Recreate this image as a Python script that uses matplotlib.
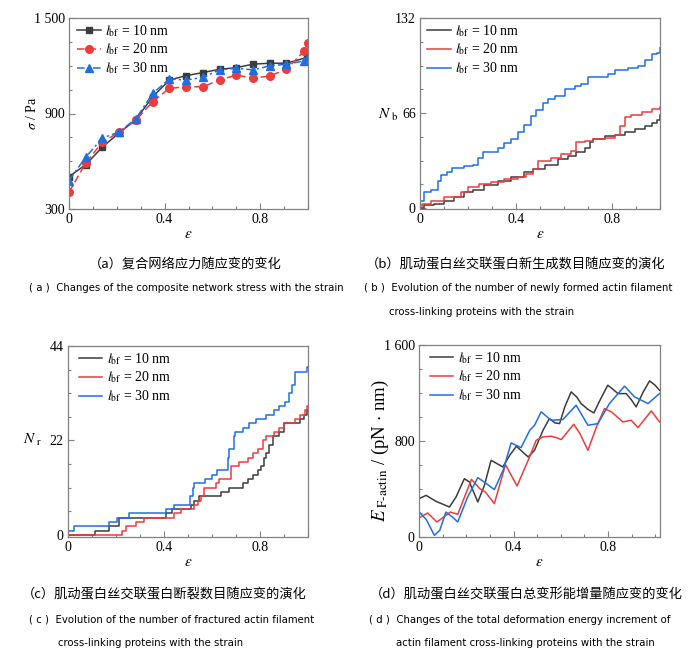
import matplotlib
matplotlib.use('Agg')
import matplotlib.pyplot as plt
from matplotlib import font_manager
from matplotlib.ticker import MultipleLocator

# ---- data ----
labels = [r'$l_{\mathrm{bf}}$ = 10 nm', r'$l_{\mathrm{bf}}$ = 20 nm', r'$l_{\mathrm{bf}}$ = 30 nm']
colors = ['#3c3c3c', '#ee3b3b', '#1f6fe0']

# (a) stress vs strain
a_x_10 = [0, 0.07, 0.14, 0.21, 0.28, 0.35, 0.42, 0.49, 0.56, 0.63, 0.70, 0.77, 0.84, 0.91, 0.995]
a_y_10 = [504, 578, 690, 778, 862, 1005, 1110, 1138, 1157, 1178, 1188, 1210, 1216, 1216, 1252]
a_x_20 = [0, 0.07, 0.14, 0.21, 0.28, 0.35, 0.42, 0.49, 0.56, 0.63, 0.70, 0.77, 0.84, 0.91, 0.985, 1.0]
a_y_20 = [405, 589, 721, 782, 858, 974, 1058, 1068, 1068, 1110, 1142, 1121, 1136, 1178, 1294, 1346]
a_x_30 = [0, 0.07, 0.14, 0.21, 0.28, 0.35, 0.42, 0.49, 0.56, 0.63, 0.70, 0.77, 0.84, 0.91, 0.985, 1.0]
a_y_30 = [479, 626, 746, 784, 868, 1026, 1117, 1110, 1127, 1174, 1184, 1174, 1199, 1210, 1231, 1255]

# (b) newly formed cross-links
b_x_10 = [0, 0.017, 0.059, 0.10, 0.142, 0.184, 0.219, 0.268, 0.324, 0.379, 0.435, 0.47, 0.519, 0.575,
          0.616, 0.651, 0.686, 0.707, 0.721, 0.77, 0.812, 0.854, 0.895, 0.937, 0.965, 0.986, 1.0]
b_y_10 = [0, 2, 3, 5, 8, 11, 13, 16, 19, 22, 25, 27, 30, 34, 36, 39, 42, 46, 48, 50, 51, 53, 55, 57, 59, 61, 65]
b_x_20 = [0, 0.01, 0.045, 0.10, 0.142, 0.170, 0.198, 0.247, 0.296, 0.351, 0.407, 0.442, 0.47, 0.491, 0.547,
          0.589, 0.63, 0.651, 0.686, 0.721, 0.77, 0.812, 0.833, 0.854, 0.881, 0.923, 0.965, 1.0]
b_y_20 = [0, 3, 5, 8, 8, 11, 15, 17, 18, 20, 22, 24, 27, 33, 35, 38, 40, 46, 47, 48, 49, 51, 57, 63, 65, 67, 69, 70]
b_x_30 = [0, 0.017, 0.045, 0.073, 0.086, 0.114, 0.135, 0.184, 0.219, 0.24, 0.261, 0.31, 0.324, 0.351, 0.379,
          0.407, 0.435, 0.463, 0.484, 0.512, 0.533, 0.561, 0.603, 0.644, 0.672, 0.70, 0.742, 0.784, 0.812,
          0.868, 0.909, 0.937, 0.965, 0.986, 1.0]
b_y_30 = [5, 11, 13, 19, 23, 25, 28, 29, 30, 35, 39, 39, 42, 45, 48, 53, 58, 64, 68, 73, 76, 78, 83, 85, 86,
          91, 91, 93, 96, 97, 99, 103, 107, 108, 111]

# (c) fractured cross-links
c_x_10 = [0, 0.114, 0.17, 0.212, 0.407, 0.435, 0.512, 0.526, 0.547, 0.637, 0.672, 0.728, 0.749, 0.77, 0.79,
          0.805, 0.815, 0.826, 0.837, 0.854, 0.881, 0.902, 0.965, 0.982, 0.996, 1.0]
c_y_10 = [0, 1, 2, 4, 5, 6, 7, 8, 9, 10, 11, 12, 13, 14, 15, 16, 18, 19, 21, 23, 24, 26, 27, 28, 29, 29]
c_x_20 = [0, 0.226, 0.24, 0.282, 0.317, 0.442, 0.47, 0.526, 0.54, 0.554, 0.568, 0.616, 0.63, 0.68, 0.714,
          0.749, 0.77, 0.79, 0.812, 0.826, 0.86, 0.881, 0.902, 0.944, 0.965, 0.986, 0.996, 1.0]
c_y_20 = [0, 1, 2, 3, 4, 5, 6, 7, 8, 9, 11, 12, 13, 16, 17, 18, 19, 20, 22, 23, 24, 25, 26, 27, 28, 29, 30, 30]
c_x_30 = [0, 0.024, 0.17, 0.205, 0.254, 0.41, 0.44, 0.51, 0.52, 0.525, 0.57, 0.60, 0.62, 0.665, 0.67, 0.69,
          0.695, 0.73, 0.755, 0.785, 0.825, 0.86, 0.88, 0.905, 0.92, 0.935, 0.945, 0.997, 1.0]
c_y_30 = [1, 2, 3, 4, 5, 6, 7, 9, 11, 12, 13, 14, 15, 18, 20, 23, 24, 25, 26, 27, 28, 29, 30, 31, 33, 35,
          38, 39, 39]

# (d) deformation energy increment
d_x_10 = [0.001, 0.030, 0.072, 0.129, 0.157, 0.192, 0.213, 0.249, 0.277, 0.305, 0.355, 0.384, 0.412, 0.434,
          0.462, 0.489, 0.525, 0.552, 0.575, 0.595, 0.617, 0.644, 0.667, 0.686, 0.716, 0.740, 0.766, 0.799,
          0.822, 0.842, 0.877, 0.900, 0.919, 0.949, 0.976, 0.999, 1.018]
d_y_10 = [320, 347, 297, 250, 334, 486, 459, 292, 431, 639, 584, 681, 756, 717, 667, 723, 890, 987, 951,
          945, 1084, 1209, 1168, 1112, 1062, 1034, 1140, 1265, 1229, 1195, 1195, 1140, 1084, 1209, 1301,
          1265, 1223]
d_x_20 = [0.001, 0.037, 0.076, 0.133, 0.164, 0.222, 0.257, 0.281, 0.319, 0.366, 0.415, 0.462, 0.496, 0.525,
          0.559, 0.582, 0.602, 0.655, 0.681, 0.715, 0.751, 0.785, 0.814, 0.863, 0.898, 0.927, 0.983, 1.018]
d_y_20 = [160, 200, 125, 208, 189, 481, 403, 375, 278, 603, 425, 639, 806, 834, 840, 828, 812, 940, 862,
          723, 917, 1070, 1043, 959, 973, 912, 1051, 959]
d_x_30 = [0.001, 0.031, 0.065, 0.088, 0.114, 0.141, 0.164, 0.206, 0.249, 0.285, 0.319, 0.356, 0.390, 0.432,
          0.469, 0.489, 0.517, 0.559, 0.609, 0.665, 0.715, 0.757, 0.806, 0.870, 0.912, 0.969, 1.018]
d_y_30 = [208, 145, 14, 56, 208, 167, 125, 334, 495, 445, 395, 556, 784, 745, 890, 931, 1043, 973, 979,
          1098, 931, 945, 1112, 1257, 1168, 1112, 1195]

plt.rcParams['font.family'] = ['Liberation Serif', 'DejaVu Serif']
plt.rcParams['mathtext.fontset'] = 'stix'

W, H = 694, 658
fig = plt.figure(figsize=(W / 100, H / 100), dpi=100)


def px_axes(l, t, r, b):
    return fig.add_axes([l / W, 1 - b / H, (r - l) / W, (b - t) / H])


def style(ax, ymaj, ymin, ylim, xmax=1.0):
    for s in ax.spines.values():
        s.set_color('#808080')
        s.set_linewidth(0.9)
    ax.set_xlim(0, xmax)
    ax.set_ylim(*ylim)
    ax.xaxis.set_major_locator(MultipleLocator(0.4))
    ax.xaxis.set_minor_locator(MultipleLocator(0.1))
    ax.yaxis.set_major_locator(MultipleLocator(ymaj))
    ax.yaxis.set_minor_locator(MultipleLocator(ymin))
    ax.tick_params(which='both', direction='in', color='#808080', labelsize=10, pad=3)
    ax.tick_params(which='major', length=4, width=0.8)
    ax.tick_params(which='minor', length=2.5, width=0.8)
    ax.set_xticks([0, 0.4, 0.8])
    ax.set_xticklabels(['0', '0.4', '0.8'])
    ax.set_xlabel(r'$\varepsilon$', fontsize=11)
    ax.xaxis.label.set_va('center')


def legend(ax, x, y):
    ax.legend(loc='upper left', bbox_to_anchor=(x, y), borderaxespad=0, borderpad=0,
              frameon=False, fontsize=10, handlelength=1.7, handletextpad=0.3, labelspacing=0.22)


# (a)
ax = px_axes(69, 18, 308, 209)
ax.plot(a_x_10, a_y_10, color=colors[0], lw=1.1, marker='s', ms=5, label=labels[0])
ax.plot(a_x_20, a_y_20, color=colors[1], lw=1.1, ls=(0, (5, 2.5)), marker='o', ms=5.5, label=labels[1])
ax.plot(a_x_30, a_y_30, color=colors[2], lw=1.1, ls=(0, (5, 2, 1.5, 2)), marker='^', ms=5.5, label=labels[2])
style(ax, 600, 150, (300, 1500))
ax.set_yticks([300, 900, 1500])
ax.set_yticklabels(['300', '900', '1 500'])
ax.set_ylabel(r'$\sigma$ / Pa', fontsize=10)
ax.yaxis.label.set_va('center')
ax.yaxis.set_label_coords(-0.155, 0.5)
ax.xaxis.set_label_coords(0.5, -0.131)
legend(ax, 0.035, 0.975)

# (b)
ax = px_axes(420, 18, 660, 209)
ax.step(b_x_10, b_y_10, where='post', color=colors[0], lw=1.1, label=labels[0])
ax.step(b_x_20, b_y_20, where='post', color=colors[1], lw=1.1, label=labels[1])
ax.step(b_x_30, b_y_30, where='post', color=colors[2], lw=1.1, label=labels[2])
style(ax, 66, 16.5, (-0.5, 132))
ax.set_ylabel(r'$N_{\ \mathrm{b}}$', fontsize=11, rotation=0)
ax.yaxis.label.set_va('center')
ax.yaxis.set_label_coords(-0.135, 0.49)
ax.xaxis.set_label_coords(0.5, -0.131)
legend(ax, 0.03, 0.975)

# (c)
ax = px_axes(68, 346, 308, 537)
ax.step(c_x_10, c_y_10, where='post', color=colors[0], lw=1.1, label=labels[0])
ax.step(c_x_20, c_y_20, where='post', color=colors[1], lw=1.1, label=labels[1])
ax.step(c_x_30, c_y_30, where='post', color=colors[2], lw=1.1, label=labels[2])
style(ax, 22, 5.5, (-0.5, 44))
ax.set_ylabel(r'$N_{\ \mathrm{r}}$', fontsize=11, rotation=0)
ax.yaxis.label.set_va('center')
ax.yaxis.set_label_coords(-0.15, 0.51)
ax.xaxis.set_label_coords(0.5, -0.135)
legend(ax, 0.045, 0.975)

# (d)
ax = px_axes(419, 345, 660, 537)
ax.plot(d_x_10, d_y_10, color=colors[0], lw=1.1, label=labels[0])
ax.plot(d_x_20, d_y_20, color=colors[1], lw=1.1, label=labels[1])
ax.plot(d_x_30, d_y_30, color=colors[2], lw=1.1, label=labels[2])
style(ax, 800, 200, (0, 1600), xmax=1.02)
ax.set_yticks([0, 800, 1600])
ax.set_yticklabels(['0', '800', '1 600'])
ax.set_ylabel(r'$E_{\ \mathrm{F\text{-}actin}}$ / (pN $\cdot$ nm)', fontsize=13.5)
ax.yaxis.label.set_va('center')
ax.yaxis.set_label_coords(-0.162, 0.45)
ax.xaxis.set_label_coords(0.5, -0.135)
legend(ax, 0.045, 0.975)

# captions: narrow sans for the English lines if a condensed face is installed
cond = font_manager.FontProperties(family='DejaVu Sans', stretch='condensed')
if 'Condensed' in font_manager.findfont(cond):
    en = dict(family='DejaVu Sans', fontstretch='condensed', fontsize=8.1)
else:
    en = dict(family=['Liberation Serif', 'DejaVu Serif'], fontsize=8.8)
en.update(va='center', ha='left')
zh = dict(family=['Noto Sans CJK SC', 'DejaVu Sans'], fontsize=9.5, va='center', ha='left')


def cap(x, y, s, kw):
    fig.text(x / W, 1 - y / H, s, **kw)


cap(89, 265, '（a）复合网络应力随应变的变化', zh)
cap(366, 265, '（b）肌动蛋白丝交联蛋白新生成数目随应变的演化', zh)
cap(29, 288, '( a )  Changes of the composite network stress with the strain', en)
cap(364, 288, '( b )  Evolution of the number of newly formed actin filament', en)
cap(389, 312, 'cross-linking proteins with the strain', en)

cap(22, 595, '（c）肌动蛋白丝交联蛋白断裂数目随应变的演化', zh)
cap(370, 595, '（d）肌动蛋白丝交联蛋白总变形能增量随应变的变化', zh)
cap(29, 620, '( c )  Evolution of the number of fractured actin filament', en)
cap(58, 643, 'cross-linking proteins with the strain', en)
cap(369, 620, '( d )  Changes of the total deformation energy increment of', en)
cap(396, 643, 'actin filament cross-linking proteins with the strain', en)

fig.savefig('out.png', dpi=100)
